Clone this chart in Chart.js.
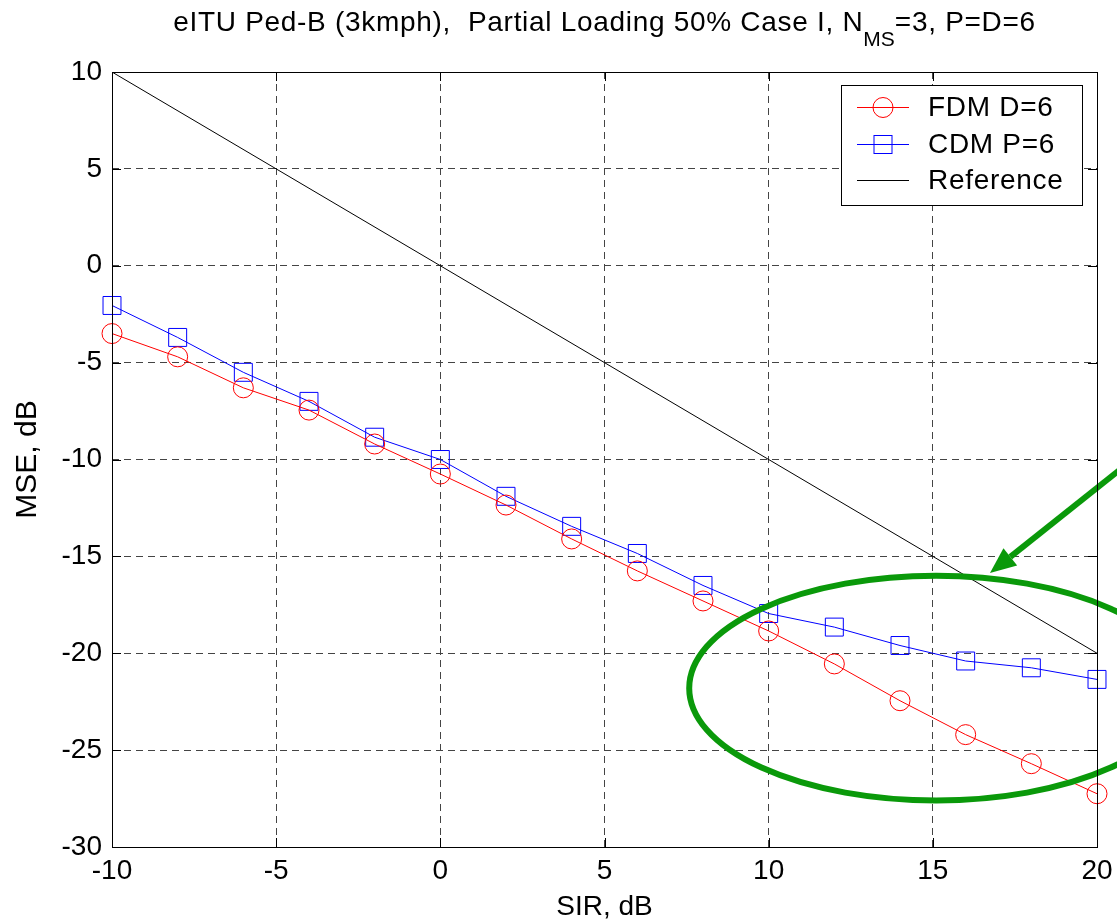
<!DOCTYPE html>
<html>
<head>
<title>MSE vs SIR</title>
<script src="https://cdn.jsdelivr.net/npm/chart.js@4/dist/chart.umd.min.js"></script>
<style>
  body { margin: 0; background: #fff; }
  #wrap { position: relative; width: 1117px; height: 924px; }
  #ttl { position: absolute; left: 112px; width: 985px; top: 6px; text-align: center; line-height: 32px;
         font-family: "Liberation Sans", Arial, sans-serif; font-size: 28px; letter-spacing: 0.7px;
         color: #000; white-space: pre; }
  #ttl sub { font-size: 21px; vertical-align: -15px; line-height: 0; letter-spacing: 0; }
</style>
</head>
<body>
<div id="wrap">
  <canvas id="myChart" width="1117" height="924"></canvas>
  <div id="ttl">eITU Ped-B (3kmph),  Partial Loading 50% Case I, N<sub>MS</sub>=3, P=D=6</div>
</div>
<script>
// SIR points (dB)
var sir = [-10, -8, -6, -4, -2, 0, 2, 4, 6, 8, 10, 12, 14, 16, 18, 20];
// MSE (dB)
var fdm = [-3.5, -4.7, -6.3, -7.45, -9.2, -10.75, -12.35, -14.1, -15.75, -17.3, -18.85, -20.55, -22.45, -24.2, -25.7, -27.25];
var cdm = [-2.05, -3.7, -5.5, -7.0, -8.85, -10.0, -11.9, -13.45, -14.85, -16.5, -17.95, -18.65, -19.6, -20.4, -20.75, -21.35];
var refX = [-10, 20];
var refY = [10, -20];
var labels = ["FDM D=6", "CDM P=6", "Reference"];

function pts(xs, ys) {
    return xs.map(function(x, i) { return {x: x, y: ys[i]}; });
}

var FONT = '"Liberation Sans", Arial, sans-serif';
var GREEN = '#0a990a';

// box round the axes + small inside ticks
var boxPlugin = {
    id: 'box',
    afterDraw: function(chart) {
        var c = chart.ctx, a = chart.chartArea;
        var sx = chart.scales.x, sy = chart.scales.y;
        c.save();
        c.strokeStyle = '#000';
        c.lineWidth = 1;
        c.strokeRect(Math.round(a.left) + 0.5, Math.round(a.top) + 0.5,
                     Math.round(a.right - a.left), Math.round(a.bottom - a.top));
        c.beginPath();
        sx.ticks.forEach(function(t) {
            var px = Math.round(sx.getPixelForValue(t.value)) + 0.5;
            c.moveTo(px, a.bottom); c.lineTo(px, a.bottom - 9);
            c.moveTo(px, a.top); c.lineTo(px, a.top + 9);
        });
        sy.ticks.forEach(function(t) {
            var py = Math.round(sy.getPixelForValue(t.value)) + 0.5;
            c.moveTo(a.left, py); c.lineTo(a.left + 9, py);
            c.moveTo(a.right, py); c.lineTo(a.right - 9, py);
        });
        c.stroke();
        c.restore();
    }
};

// green ellipse + arrow drawn on top of the lines
var markPlugin = {
    id: 'marks',
    afterDatasetsDraw: function(chart) {
        var c = chart.ctx, sx = chart.scales.x, sy = chart.scales.y;
        var cx = sx.getPixelForValue(15.1), cy = sy.getPixelForValue(-21.8);
        var rx = sx.getPixelForValue(15.1 + 7.52) - cx;
        var ry = sy.getPixelForValue(-21.8 - 5.8) - cy;
        c.save();
        c.strokeStyle = GREEN;
        c.fillStyle = GREEN;
        c.lineWidth = 6;
        c.beginPath();
        c.ellipse(cx, cy, rx, ry, 0, 0, Math.PI * 2);
        c.stroke();
        // arrow
        var tx = sx.getPixelForValue(16.74), ty = sy.getPixelForValue(-15.86);
        var fx = sx.getPixelForValue(22.2), fy = sy.getPixelForValue(-8.5);
        var ang = Math.atan2(ty - fy, tx - fx);
        var hl = 26, hw = 11;
        var bx = tx - hl * Math.cos(ang), by = ty - hl * Math.sin(ang);
        c.beginPath();
        c.moveTo(fx, fy); c.lineTo(bx, by);
        c.stroke();
        c.beginPath();
        c.moveTo(tx, ty);
        c.lineTo(bx + hw * Math.sin(ang), by - hw * Math.cos(ang));
        c.lineTo(bx - hw * Math.sin(ang), by + hw * Math.cos(ang));
        c.closePath();
        c.fill();
        c.restore();
    }
};

// matlab style legend box
var legendPlugin = {
    id: 'mlegend',
    afterDraw: function(chart) {
        var c = chart.ctx, a = chart.chartArea;
        var w = 241, h = 120;
        var x0 = Math.round(a.right) - 15 - w, y0 = Math.round(a.top) + 13;
        c.save();
        c.fillStyle = '#fff';
        c.fillRect(x0, y0, w, h);
        c.strokeStyle = '#000';
        c.lineWidth = 1;
        c.strokeRect(x0 + 0.5, y0 + 0.5, w, h);
        c.font = '28px ' + FONT;
        c.letterSpacing = '0.7px';
        c.textBaseline = 'middle';
        c.fillStyle = '#000';
        chart.data.datasets.forEach(function(ds, i) {
            var yy = Math.round(y0 + 22 + i * 36.5) + 0.5;
            c.strokeStyle = ds.borderColor;
            c.lineWidth = 1;
            c.beginPath();
            c.moveTo(x0 + 16, yy); c.lineTo(x0 + 68, yy);
            c.stroke();
            var mx = x0 + 42;
            if (ds.pointStyle === 'circle') {
                c.beginPath(); c.arc(mx, yy, 10, 0, Math.PI * 2); c.stroke();
            } else if (ds.pointStyle === 'rect') {
                c.strokeRect(mx - 9, yy - 9, 18, 18);
            }
            c.fillText(ds.label, x0 + 87, yy + 1);
        });
        c.restore();
    }
};

var tickFont = {family: FONT, size: 28};

var chart = new Chart(document.getElementById("myChart"), {
    type: 'line',
    data: {
        datasets: [{
            label: labels[0],
            data: pts(sir, fdm),
            borderColor: '#ff0000',
            backgroundColor: 'rgba(0,0,0,0)',
            borderWidth: 1,
            pointStyle: 'circle',
            pointRadius: 10,
            pointBorderWidth: 1,
            pointBorderColor: '#ff0000',
            pointBackgroundColor: 'rgba(0,0,0,0)',
            tension: 0,
            clip: false
        }, {
            label: labels[1],
            data: pts(sir, cdm),
            borderColor: '#0000ff',
            backgroundColor: 'rgba(0,0,0,0)',
            borderWidth: 1,
            pointStyle: 'rect',
            pointRadius: 12.7,
            pointBorderWidth: 1,
            pointBorderColor: '#0000ff',
            pointBackgroundColor: 'rgba(0,0,0,0)',
            tension: 0,
            clip: false
        }, {
            label: labels[2],
            data: pts(refX, refY),
            borderColor: '#000000',
            borderWidth: 1,
            pointRadius: 0,
            pointStyle: false,
            tension: 0
        }]
    },
    options: {
        responsive: false,
        animation: false,
        layout: {padding: {left: 0, right: 20, top: 72, bottom: 0}},
        plugins: {legend: {display: false}, tooltip: {enabled: false}, title: {display: false}},
        scales: {
            x: {
                type: 'linear', min: -10, max: 20,
                ticks: {stepSize: 5, color: '#000', font: tickFont, padding: 7, maxRotation: 0},
                grid: {color: '#444', lineWidth: 1, drawTicks: false},
                border: {display: false, dash: [7, 5]},
                title: {display: true, text: 'SIR, dB', color: '#000', font: tickFont, padding: {top: 0, bottom: 0}},
                afterFit: function(s) { s.height = 77; s.paddingLeft = 0; s.paddingRight = 0; }
            },
            y: {
                type: 'linear', min: -30, max: 10,
                ticks: {stepSize: 5, color: '#000', font: tickFont, padding: 10},
                grid: {color: '#444', lineWidth: 1, drawTicks: false},
                border: {display: false, dash: [7, 5]},
                title: {display: true, text: 'MSE, dB', color: '#000', font: {family: FONT, size: 30}, padding: {top: 10, bottom: 0}},
                afterFit: function(s) { s.width = 112; s.paddingTop = 0; s.paddingBottom = 0; }
            }
        }
    },
    plugins: [markPlugin, boxPlugin, legendPlugin]
});
</script>
</body>
</html>
